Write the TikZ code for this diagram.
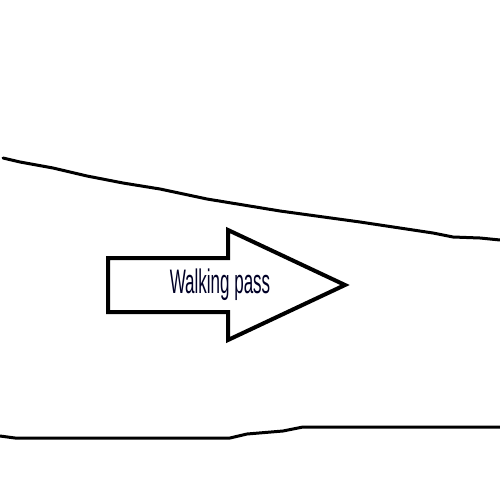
\documentclass[tikz,border=0pt]{standalone}
\usepackage{fontspec}
\setmainfont{Liberation Sans}
\begin{document}
\begin{tikzpicture}[x=1pt,y=-1pt]

      \tikzset{edgeline/.style={draw, line width=3pt, line cap=round, line join=round},
               arrowbox/.style={draw, line width=4pt, line join=miter}}
      \useasboundingbox (0,0) rectangle (500,500);
%% Walkway edges
      	\draw[edgeline] (3,158) -- (20,162) -- (53,168) -- (87,176) -- (123,183) -- (160,189)
      	    -- (207,199) -- (280,211) -- (360,222) -- (433,233) -- (453,237) -- (480,238) -- (500,240);
      	\draw[edgeline] (0,436) -- (15,438) -- (230,438) -- (247,434) -- (283,431) -- (303,427) -- (500,427);
%Arrow
		\draw[arrowbox] (108,258) -- (228,258) -- (228,230) -- (345,285) -- (228,340) -- (228,312) -- (108,312) -- cycle;
		\node[inner sep=0pt, text=black!85!blue] (walk) at (220,285) {\scalebox{0.5}[1]{\fontsize{34}{34}\selectfont Walking pass}};

	\end{tikzpicture}
\end{document}
